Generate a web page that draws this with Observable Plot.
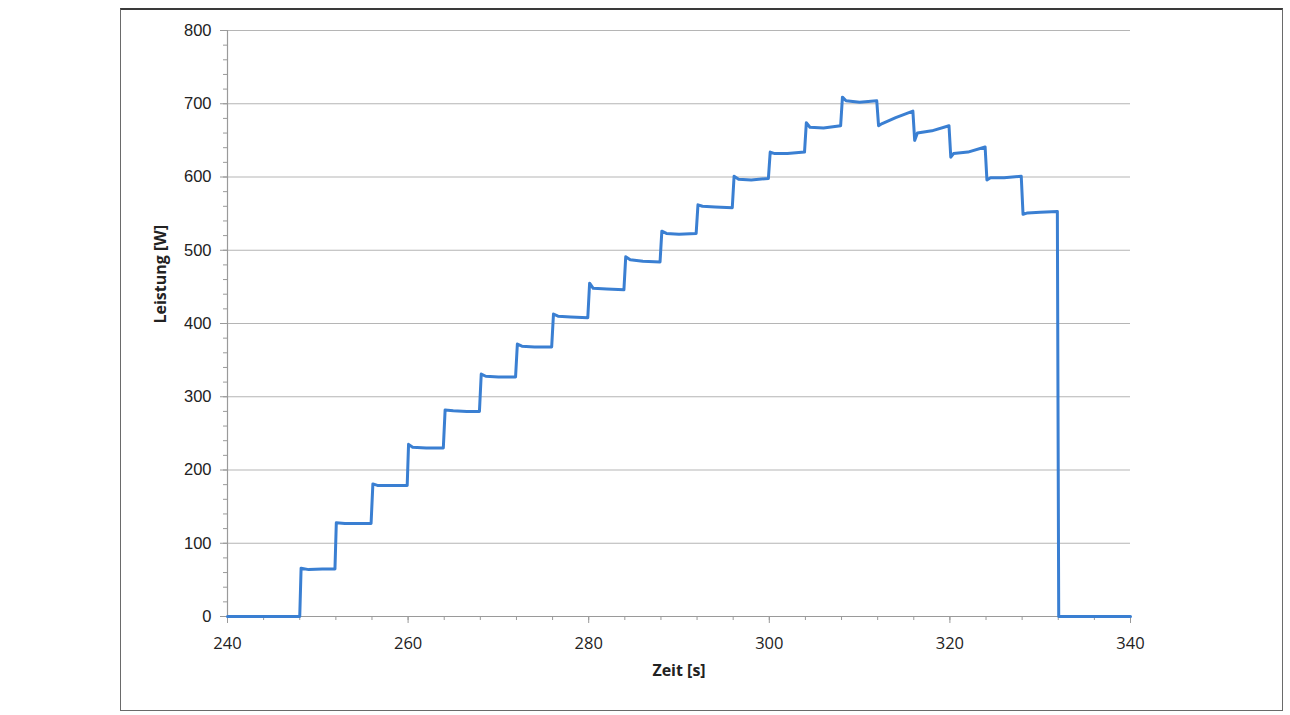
<!DOCTYPE html>
<html>
<head>
<meta charset="utf-8">
<script src="https://cdn.jsdelivr.net/npm/d3@7"></script>
<script src="https://cdn.jsdelivr.net/npm/@observablehq/plot@0.6"></script>
<style>
  html, body { margin: 0; padding: 0; background: #fff; }
  #wrap { position: relative; width: 1290px; height: 715px; }
  #frame { position: absolute; left: 120px; top: 8px; width: 1161px; height: 700px; border: 1.5px solid #6a6a6a; border-top: 2px solid #3a3a3a; pointer-events: none; }
  #chart { position: absolute; left: 0; top: 0; }
</style>
</head>
<body>
<div id="wrap"><div id="chart"></div><div id="frame"></div></div>
<script>
// Data: time [s] and power [W]
const time = [
  240, 248,
  248.15, 249, 250.5, 251.9,
  252.05, 253, 254.5, 255.9,
  256.1, 256.6, 258, 259.9,
  260.05, 260.5, 262, 263.9,
  264.1, 265, 266.5, 267.9,
  268.1, 268.6, 270, 271.9,
  272.1, 272.6, 274, 275.9,
  276.1, 276.6, 278, 279.9,
  280.1, 280.5, 282, 283.9,
  284.1, 284.6, 286, 287.9,
  288.1, 288.6, 290, 291.9,
  292.1, 292.6, 294, 295.9,
  296.1, 296.6, 298, 299.9,
  300.1, 300.6, 302, 303.9,
  304.1, 304.5, 306, 307.9,
  308.1, 308.5, 310, 311.9,
  312.1, 312.5, 314, 315.9,
  316.1, 316.4, 318, 319.9,
  320.1, 320.4, 322, 323.9,
  324.1, 324.5, 326, 327.9,
  328.1, 328.6, 330, 331.9,
  332.05, 340
];
const power = [
  0, 0,
  66, 64, 65, 65,
  128, 127, 127, 127,
  181, 179, 179, 179,
  235, 231, 230, 230,
  282, 281, 280, 280,
  331, 328, 327, 327,
  372, 369, 368, 368,
  413, 410, 409, 408,
  455, 448, 447, 446,
  491, 487, 485, 484,
  526, 523, 522, 523,
  562, 560, 559, 558,
  601, 597, 596, 598,
  634, 632, 632, 634,
  674, 668, 667, 670,
  709, 704, 702, 704,
  670, 673, 681, 690,
  650, 660, 663, 670,
  627, 632, 634, 641,
  596, 599, 599, 601,
  549, 551, 552, 553,
  0, 0
];
const xTicks = [240, 260, 280, 300, 320, 340];
const xMinor = d3.range(240, 341, 4);
const yTicks = [0, 100, 200, 300, 400, 500, 600, 700, 800];
const yMinor = d3.range(0, 801, 20);
const xLabel = "Zeit [s]";
const yLabel = "Leistung [W]";

const data = time.map((t, i) => ({t, p: power[i]}));

const chart = Plot.plot({
  width: 1290,
  height: 715,
  marginLeft: 227,
  marginRight: 160,
  marginTop: 30,
  marginBottom: 99,
  style: {fontFamily: "'Open Sans', 'Liberation Sans', sans-serif", background: "transparent"},
  x: {domain: [240, 340], label: null},
  y: {domain: [0, 800], label: null},
  marks: [
    Plot.ruleY(yTicks.filter(d => d > 0), {stroke: "#b5b5b5", strokeWidth: 1.2}),
    Plot.axisY({ticks: yMinor, tickSize: 4, tickFormat: () => "", stroke: "#9a9a9a", label: null}),
    Plot.axisY({ticks: yTicks, tickSize: 7, tickPadding: 9, fontSize: 16.5, stroke: "#9a9a9a", color: "#222", fontFamily: "'Liberation Sans', Arial, sans-serif", label: null}),
    Plot.axisX({ticks: xMinor, tickSize: 4, tickFormat: () => "", stroke: "#9a9a9a", label: null}),
    Plot.axisX({ticks: xTicks, tickSize: 7, tickPadding: 14, fontSize: 16.5, stroke: "#9a9a9a", color: "#222", label: null}),
    Plot.ruleX([240], {stroke: "#9a9a9a", strokeWidth: 1.2}),
    Plot.ruleY([0], {stroke: "#9a9a9a", strokeWidth: 1.2}),
    Plot.line(data, {x: "t", y: "p", stroke: "#3a7fd2", strokeWidth: 3, strokeLinejoin: "round"}),
    Plot.text([xLabel], {frameAnchor: "bottom", dy: 59, fontWeight: "bold", fontSize: 16, fill: "#222"}),
    Plot.text([yLabel], {frameAnchor: "left", rotate: -90, dx: -67, fontWeight: "bold", fontSize: 16, fill: "#222"})
  ]
});
document.getElementById("chart").appendChild(chart);
</script>
</body>
</html>
